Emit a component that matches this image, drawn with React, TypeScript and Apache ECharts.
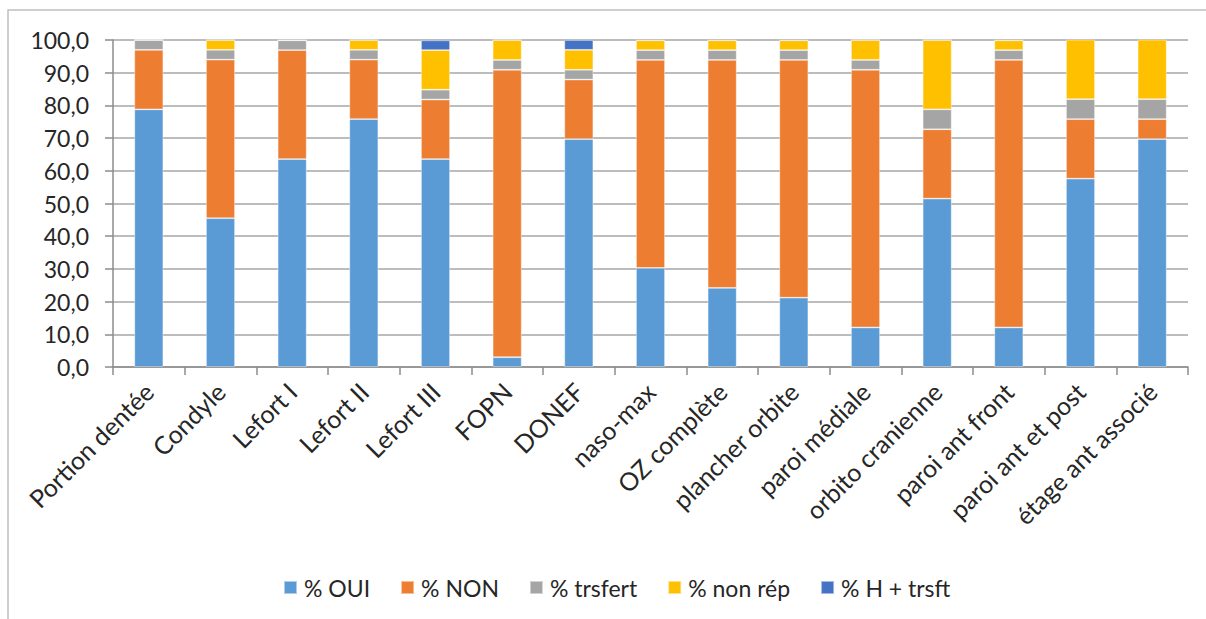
import React, { useEffect, useRef } from "react";
import * as echarts from "echarts";

const categories = [
  "Portion dentée", "Condyle", "Lefort I", "Lefort II", "Lefort III", "FOPN", "DONEF",
  "naso-max", "OZ complète", "plancher orbite", "paroi médiale", "orbito cranienne",
  "paroi ant front", "paroi ant et post", "étage ant associé",
];
const oui = [78.8, 45.5, 63.6, 75.8, 63.6, 3.0, 69.7, 30.3, 24.2, 21.2, 12.1, 51.5, 12.1, 57.6, 69.7];
const non = [18.2, 48.5, 33.3, 18.2, 18.2, 87.9, 18.2, 63.6, 69.7, 72.7, 78.8, 21.2, 81.8, 18.2, 6.1];
const trsfert = [3.0, 3.0, 3.0, 3.0, 3.0, 3.0, 3.0, 3.0, 3.0, 3.0, 3.0, 6.1, 3.0, 6.1, 6.1];
const nonRep = [0, 3.0, 0, 3.0, 12.1, 6.1, 6.1, 3.0, 3.0, 3.0, 6.1, 21.2, 3.0, 18.2, 18.2];
const hTrsft = [0, 0, 0, 0, 3.0, 0, 3.0, 0, 0, 0, 0, 0, 0, 0, 0];
const seriesNames = ["% OUI", "% NON", "% trsfert", "% non rép", "% H + trsft"];
const seriesColors = ["#5B9BD5", "#ED7D31", "#A5A5A5", "#FFC000", "#4472C4"];
const yTicks = { min: 0, max: 100, interval: 10 };

export default function App() {
  const ref = useRef<HTMLDivElement>(null);
  useEffect(() => {
    document.body.style.margin = "0";
    if (!ref.current) return;
    const chart = echarts.init(ref.current, null, { renderer: "svg" });
    const font = "Lato, 'Open Sans', sans-serif";
    const data = [oui, non, trsfert, nonRep, hTrsft];
    chart.setOption({
      animation: false,
      textStyle: { fontFamily: font },
      graphic: [
        {
          type: "rect",
          shape: { x: 8, y: 10, width: 1400, height: 900 },
          style: { fill: "none", stroke: "#bfbfbf", lineWidth: 1.5 },
          silent: true,
        },
      ],
      grid: { left: 113, right: 18, top: 40, bottom: 252, containLabel: false },
      legend: {
        left: 278,
        top: 571,
        itemWidth: 13,
        itemHeight: 13,
        itemGap: 30,
        icon: "rect",
        textStyle: { fontSize: 23, color: "#262626", fontFamily: font, padding: [0, 0, 0, 2] },
        data: seriesNames,
      },
      xAxis: {
        type: "category",
        data: categories,
        axisLine: { lineStyle: { color: "#8c8c8c", width: 1.5 } },
        axisTick: { show: true, length: 8, lineStyle: { color: "#8c8c8c", width: 1.5 } },
        axisLabel: { rotate: 45, fontSize: 25, color: "#262626", margin: 20, interval: 0, fontFamily: font },
      },
      yAxis: {
        type: "value",
        min: yTicks.min,
        max: yTicks.max,
        interval: yTicks.interval,
        axisLine: { show: true, lineStyle: { color: "#8c8c8c", width: 1.5 } },
        axisTick: { show: true, length: 8, lineStyle: { color: "#8c8c8c", width: 1.5 } },
        splitLine: { lineStyle: { color: "#a6a6a6", width: 1.5 } },
        axisLabel: {
          fontSize: 23,
          color: "#262626",
          margin: 24,
          fontFamily: font,
          formatter: (v: number) => v.toFixed(1).replace(".", ","),
        },
      },
      series: seriesNames.map((name, i) => ({
        name,
        type: "bar",
        stack: "total",
        barWidth: 29,
        data: data[i],
        itemStyle: { color: seriesColors[i], borderColor: "rgba(255,255,255,0.5)", borderWidth: 0.8 },
      })),
    });
    return () => chart.dispose();
  }, []);
  return <div ref={ref} style={{ width: 1206, height: 619 }} />;
}
